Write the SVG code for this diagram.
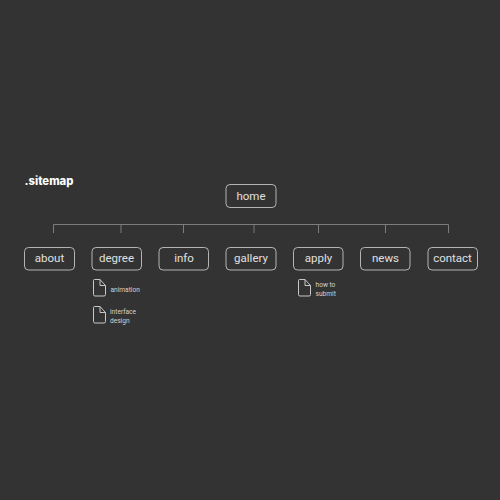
<svg xmlns="http://www.w3.org/2000/svg" width="500" height="500" viewBox="0 0 500 500">
<style>
.box{fill:none;stroke:#b4b4b4;stroke-width:1}
.lbl{font-family:"Roboto","Liberation Sans",sans-serif;font-size:11.500px;fill:#e2e2e2;text-anchor:middle;opacity:.99}
.sm{font-family:"Roboto","Liberation Sans",sans-serif;font-size:6.600px;fill:#d6d6d6;opacity:.99}
.doc{fill:none;stroke:#c8c8c8;stroke-width:1;stroke-linejoin:round}
.con{fill:none;stroke:#7c7c7c;stroke-width:1}
</style>
<defs>
<g id="d"><path class="doc" d="M1 0.500H6.500L12 6.500V15.500Q12 17 10.500 17H1.500Q0 17 0 15.500V1.500Q0 0.500 1 0.500ZM6.500 0.500V6.500H12"/></g>
</defs>
<rect width="500" height="500" fill="#333333"/>
<text x="24.500" y="185" font-family="Inter,'Liberation Sans',sans-serif" font-size="11.300" font-weight="800" fill="#ffffff" opacity=".99">.sitemap</text>
<g id="connectors">
<path class="con" d="M53.500 233V224.500H448.500V233M121 224.500V233M183.500 224.500V233M254 224.500V233M318.500 224.500V233M385.500 224.500V233"/>
</g>
<g id="home"><rect class="box" x="226" y="184.500" width="50" height="23" rx="4"/><text class="lbl" x="251" y="200">home</text></g>
<g id="about"><rect class="box" x="24.500" y="247.500" width="50" height="22.500" rx="4"/><text class="lbl" x="49.500" y="262">about</text></g>
<g id="degree"><rect class="box" x="92" y="247.500" width="49.500" height="22.500" rx="4"/><text class="lbl" x="116.500" y="262">degree</text></g>
<g id="info"><rect class="box" x="159" y="247.500" width="49.500" height="22.500" rx="4"/><text class="lbl" x="184" y="262">info</text></g>
<g id="gallery"><rect class="box" x="226" y="247.500" width="50" height="22.500" rx="4"/><text class="lbl" x="251" y="262">gallery</text></g>
<g id="apply"><rect class="box" x="293.500" y="247.500" width="49.500" height="22.500" rx="4"/><text class="lbl" x="318.500" y="262">apply</text></g>
<g id="news"><rect class="box" x="360.500" y="247.500" width="49.500" height="22.500" rx="4"/><text class="lbl" x="385.500" y="262">news</text></g>
<g id="contact"><rect class="box" x="428" y="247.500" width="49.500" height="22.500" rx="4"/><text class="lbl" x="452.500" y="262">contact</text></g>
<g id="animation"><use href="#d" x="93.500" y="279"/><text class="sm" x="110.500" y="292">animation</text></g>
<g id="interface-design"><use href="#d" x="93.500" y="306"/><text class="sm" x="110" y="314">interface</text><text class="sm" x="110" y="322.500">design</text></g>
<g id="how-to-submit"><use href="#d" x="298.500" y="279"/><text class="sm" x="315.500" y="287">how to</text><text class="sm" x="315.500" y="295.500">submit</text></g>
</svg>
